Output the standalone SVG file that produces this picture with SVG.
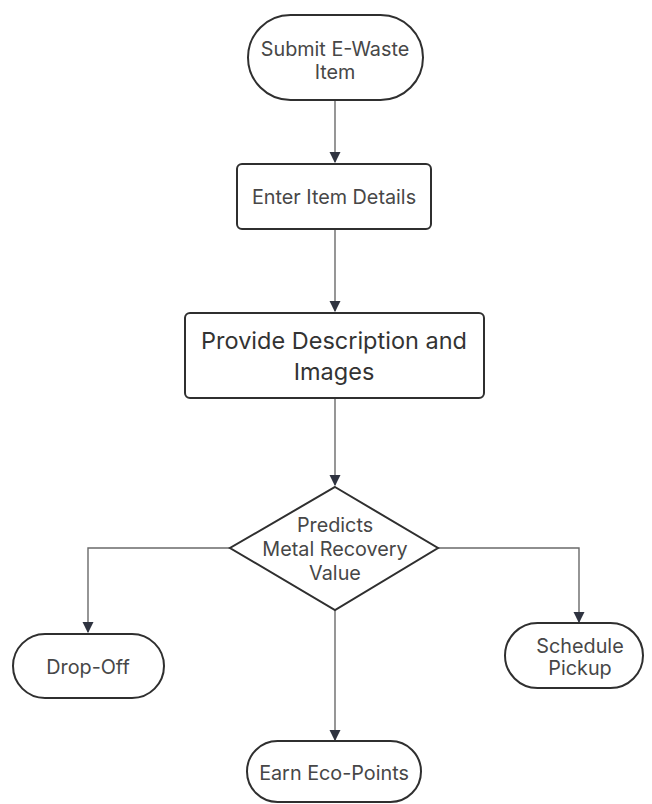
<svg xmlns="http://www.w3.org/2000/svg" width="652" height="804" viewBox="0 0 652 804">
<style>
.shape{fill:#fff;stroke:#2f2f2f;stroke-width:2}
.lbl{font-family:Inter,"Liberation Sans",Arial,sans-serif;font-size:19.8px;fill:#474747;text-anchor:middle;dominant-baseline:central}
.big{font-size:23.5px;fill:#333}
.conn{fill:none;stroke:#6a6a6a;stroke-width:1.4}
</style>
<defs>
<marker id="arr" markerWidth="11" markerHeight="13" refX="9" refY="5" orient="auto" markerUnits="userSpaceOnUse" viewBox="0 0 10 10">
<path d="M0,0 L10,5 L0,10 Z" fill="#2f3340"/>
</marker>
</defs>
<rect width="652" height="804" fill="#fff"/>
<g id="connectors">
<path class="conn" d="M335,100 V162" marker-end="url(#arr)"/>
<path class="conn" d="M335,229 V311" marker-end="url(#arr)"/>
<path class="conn" d="M335,398 V485" marker-end="url(#arr)"/>
<path class="conn" d="M230,548 H88 V632" marker-end="url(#arr)"/>
<path class="conn" d="M438,548 H579 V622" marker-end="url(#arr)"/>
<path class="conn" d="M335,610 V740" marker-end="url(#arr)"/>
</g>
<g id="submit">
<rect class="shape" x="248" y="15" width="175" height="85" rx="42.5"/>
<text class="lbl" x="335" y="49">Submit E-Waste</text>
<text class="lbl" x="335" y="72">Item</text>
</g>
<g id="enter">
<rect class="shape" x="237" y="164" width="194" height="65" rx="5"/>
<text class="lbl" x="334" y="197">Enter Item Details</text>
</g>
<g id="provide">
<rect class="shape" x="185" y="313" width="299" height="85" rx="5"/>
<text class="lbl big" x="334" y="340">Provide Description and</text>
<text class="lbl big" x="334" y="371">Images</text>
</g>
<g id="predicts">
<polygon class="shape" points="335,487 438,548 335,610 230,548"/>
<text class="lbl" x="335" y="525">Predicts</text>
<text class="lbl" x="335" y="549">Metal Recovery</text>
<text class="lbl" x="335" y="573">Value</text>
</g>
<g id="dropoff">
<rect class="shape" x="13" y="634" width="151" height="64" rx="32"/>
<text class="lbl" x="88" y="667">Drop-Off</text>
</g>
<g id="schedule">
<rect class="shape" x="505" y="623" width="138" height="65" rx="32.5"/>
<text class="lbl" x="580" y="646">Schedule</text>
<text class="lbl" x="580" y="668">Pickup</text>
</g>
<g id="earn">
<rect class="shape" x="247" y="741" width="174" height="61" rx="30.5"/>
<text class="lbl" x="334" y="773">Earn Eco-Points</text>
</g>
</svg>
